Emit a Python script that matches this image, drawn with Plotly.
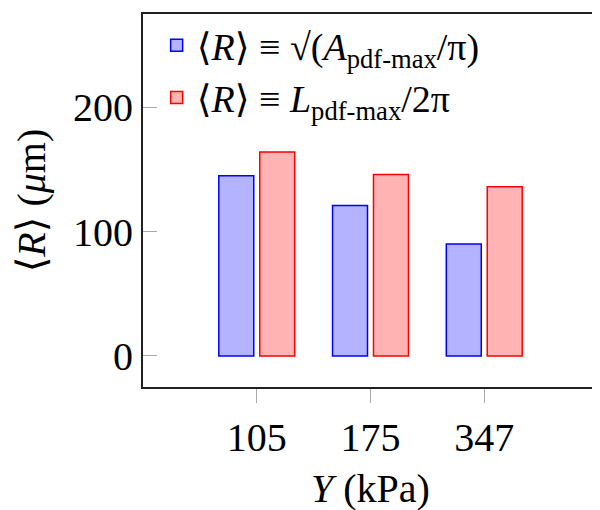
import plotly.graph_objects as go

# stiffness categories (kPa)
stiffness = ["105", "175", "347"]
# mean radius estimates (um)
r_area = [145, 121, 90]
r_length = [164, 146, 136]

serif = "Liberation Serif, DejaVu Serif, serif"

fig = go.Figure()
fig.add_trace(go.Bar(
    x=stiffness, y=r_area,
    name="⟨<i>R</i>⟩ ≡ √(<i>A</i><sub>pdf-max</sub>/π)",
    marker=dict(color="rgb(179,179,255)", line=dict(color="rgb(0,0,255)", width=1.5)),
))
fig.add_trace(go.Bar(
    x=stiffness, y=r_length,
    name="⟨<i>R</i>⟩ ≡ <i>L</i><sub>pdf-max</sub>/2π",
    marker=dict(color="rgb(255,179,179)", line=dict(color="rgb(255,0,0)", width=1.5)),
))

axis_common = dict(
    showline=True, linecolor="#222", linewidth=2, mirror=True,
    showgrid=False, zeroline=False, automargin=False,
    tickcolor="#aaa", ticklen=14, tickwidth=1,
    tickfont=dict(family=serif, size=40, color="black"),
)

# page body has an 8px margin, so margins are shifted to compensate
fig.update_layout(
    width=600, height=510,
    margin=dict(l=135, r=10, t=6, b=131),
    paper_bgcolor="white", plot_bgcolor="white",
    barmode="group", bargap=0.28, bargroupgap=0.146,
    font=dict(family=serif, color="black"),
    showlegend=True,
    legend=dict(
        x=0.03, y=1.0, xanchor="left", yanchor="top",
        bgcolor="rgba(0,0,0,0)", borderwidth=0,
        font=dict(family=serif, size=38),
        itemwidth=30, tracegroupgap=0,
    ),
    xaxis=dict(
        type="category", range=[-1, 3], ticks="outside",
        title=dict(text="<i>Y</i> (kPa)", font=dict(family=serif, size=40)),
        **axis_common,
    ),
    yaxis=dict(
        range=[-25, 275], tickvals=[0, 100, 200], ticks="inside",
        title=dict(text="⟨<i>R</i>⟩ (<i>μ</i>m)", font=dict(family=serif, size=40)),
        **axis_common,
    ),
)

fig.write_html("out.html")
